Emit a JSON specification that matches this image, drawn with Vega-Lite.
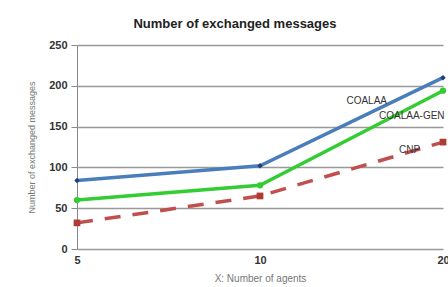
{
  "$schema": "https://vega.github.io/schema/vega-lite/v6.json",
  "autosize": {"type": "none"},
  "width": 366,
  "height": 204,
  "padding": {"left": 77, "top": 45, "right": 5, "bottom": 38},
  "background": "white",
  "title": {"text": "Number of exchanged messages", "font": "Liberation Sans", "fontSize": 13, "fontWeight": "bold", "color": "#222", "anchor": "middle", "dx": -25, "offset": 8},
  "data": {"values": [
    {"agents": "5", "series": "COALAA", "messages": 84},
    {"agents": "10", "series": "COALAA", "messages": 102},
    {"agents": "20", "series": "COALAA", "messages": 210},
    {"agents": "5", "series": "COALAA-GEN", "messages": 60},
    {"agents": "10", "series": "COALAA-GEN", "messages": 78},
    {"agents": "20", "series": "COALAA-GEN", "messages": 194},
    {"agents": "5", "series": "CNP", "messages": 32},
    {"agents": "10", "series": "CNP", "messages": 65},
    {"agents": "20", "series": "CNP", "messages": 131}
  ]},
  "encoding": {
    "x": {"field": "agents", "type": "ordinal", "sort": ["5", "10", "20"],
      "scale": {"type": "point", "padding": 0},
      "axis": {"title": "X: Number of agents", "labelAngle": 0, "labelFont": "Liberation Sans", "labelFontSize": 11, "labelFontWeight": "bold", "labelColor": "#333", "titleFont": "Liberation Sans", "titleFontSize": 10, "titleFontWeight": "normal", "titleColor": "#777", "titleDx": -12, "titlePadding": 8, "ticks": false, "domain": false, "grid": false, "labelPadding": 5}},
    "y": {"field": "messages", "type": "quantitative",
      "scale": {"domain": [0, 250]},
      "axis": {"title": "Number of exchanged messages", "values": [0, 50, 100, 150, 200, 250], "labelFont": "Liberation Sans", "labelFontSize": 11, "labelFontWeight": "bold", "labelColor": "#333", "titleFont": "Liberation Sans", "titleFontSize": 9, "titleFontWeight": "normal", "titleColor": "#777", "titlePadding": 12, "tickSize": 6, "tickColor": "#888", "domainColor": "#888", "gridColor": "#999", "gridWidth": 1.5, "labelPadding": 4}},
    "order": {"value": 0}
  },
  "layer": [
    {"transform": [{"filter": "datum.series === 'COALAA'"}],
     "mark": {"type": "line", "color": "#4a7ebb", "strokeWidth": 3.5, "point": {"shape": "diamond", "size": 30, "color": "#1f3f7a"}}},
    {"transform": [{"filter": "datum.series === 'COALAA-GEN'"}],
     "mark": {"type": "line", "color": "#33cc33", "strokeWidth": 3.5, "point": {"shape": "circle", "size": 40, "color": "#33cc33"}}},
    {"transform": [{"filter": "datum.series === 'CNP'"}],
     "mark": {"type": "line", "color": "#c0504d", "strokeWidth": 3.5, "strokeDash": [16, 12], "point": {"shape": "square", "size": 45, "color": "#b03a36"}}},
    {"transform": [{"filter": "datum.series === 'COALAA' && datum.agents === '20'"}],
     "mark": {"type": "text", "align": "right", "baseline": "middle", "dx": -56, "dy": 23, "font": "Liberation Sans", "fontSize": 10, "color": "#333"},
     "encoding": {"text": {"field": "series"}}},
    {"transform": [{"filter": "datum.series === 'COALAA-GEN' && datum.agents === '20'"}],
     "mark": {"type": "text", "align": "left", "baseline": "middle", "dx": -64, "dy": 25, "font": "Liberation Sans", "fontSize": 10, "color": "#333"},
     "encoding": {"text": {"field": "series"}}},
    {"transform": [{"filter": "datum.series === 'CNP' && datum.agents === '20'"}],
     "mark": {"type": "text", "align": "left", "baseline": "middle", "dx": -44, "dy": 8, "font": "Liberation Sans", "fontSize": 10, "color": "#333"},
     "encoding": {"text": {"field": "series"}}}
  ],
  "config": {"view": {"stroke": null}}
}
